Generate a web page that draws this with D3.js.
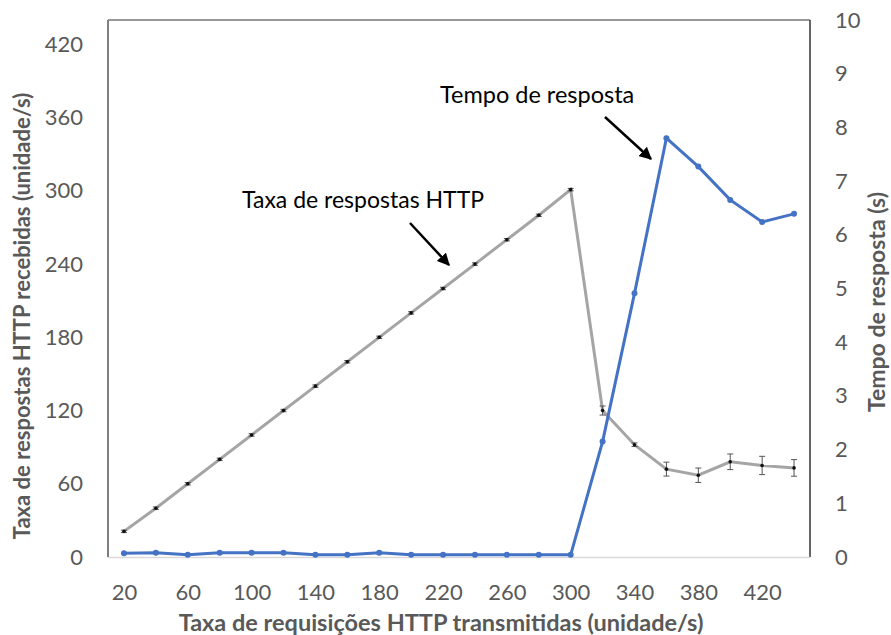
<!DOCTYPE html>
<html>
<head>
<meta charset="utf-8">
<script src="https://cdn.jsdelivr.net/npm/d3@7"></script>
<style>
  body { margin: 0; background: #fff; }
  svg text { font-family: Lato, "Open Sans", sans-serif; }
</style>
</head>
<body>
<svg id="chart" width="891" height="635"></svg>
<script>
// categories on the x axis (requests sent, unit/s)
const categories = [20,40,60,80,100,120,140,160,180,200,220,240,260,280,300,320,340,360,380,400,420,440];
const xLabels = [20,60,100,140,180,220,260,300,340,380,420];
// HTTP responses received (left axis)
const respRate = [21,40,60,80,100,120,140,160,180,200,220,240,260,280,301,120,92,72,67,78,75,73];
const respErr  = [1,1,1,1,1,1,1,1,1,1,1,1,1,1,1,3.7,1.5,5.7,5.9,6.4,7.5,6.8];
// response time in seconds (right axis)
const respTime = [0.07,0.08,0.04,0.08,0.08,0.08,0.04,0.04,0.08,0.04,0.04,0.04,0.04,0.04,0.04,2.15,4.91,7.8,7.27,6.65,6.24,6.39];
const leftTicks = [0,60,120,180,240,300,360,420];
const rightTicks = [0,1,2,3,4,5,6,7,8,9,10];

const opt = {left: 108, right: 810, top: 20, bottom: 557};
const svg = d3.select('#chart');

const x = d3.scalePoint().domain(categories).range([opt.left, opt.right]).padding(0.5);
const yL = d3.scaleLinear().domain([0, 440]).range([opt.bottom, opt.top]);
const yR = d3.scaleLinear().domain([0, 10]).range([opt.bottom, opt.top]);

const grey = '#595959';

// frame
svg.append('line').attr('x1', opt.left).attr('x2', opt.right).attr('y1', opt.top).attr('y2', opt.top)
    .attr('stroke', '#333').attr('stroke-width', 1.2);
svg.append('line').attr('x1', opt.right).attr('x2', opt.right).attr('y1', opt.top).attr('y2', opt.bottom)
    .attr('stroke', '#333').attr('stroke-width', 1.5);
svg.append('line').attr('x1', opt.left).attr('x2', opt.right).attr('y1', opt.bottom + 0.5).attr('y2', opt.bottom + 0.5)
    .attr('stroke', '#d9d9d9').attr('stroke-width', 1.5);
svg.append('line').attr('x1', opt.left).attr('x2', opt.left).attr('y1', opt.top).attr('y2', opt.bottom)
    .attr('stroke', '#7f7f7f').attr('stroke-width', 2);

// axes (labels only, Excel style)
const axL = svg.append('g').attr('transform', `translate(${opt.left - 25},0)`)
    .call(d3.axisLeft(yL).tickValues(leftTicks).tickSize(0).tickPadding(0));
const axR = svg.append('g').attr('transform', `translate(${opt.right + 25},0)`)
    .call(d3.axisRight(yR).tickValues(rightTicks).tickSize(0).tickPadding(0));
const axB = svg.append('g').attr('transform', `translate(0,${opt.bottom + 27})`)
    .call(d3.axisBottom(x).tickValues(xLabels).tickSize(0).tickPadding(0));
[axL, axR, axB].forEach(a => {
    a.select('.domain').remove();
    a.selectAll('text').attr('fill', grey).style('font-size', '22px');
});
axB.selectAll('text').attr('dy', '0.71em');

// axis titles
svg.append('text').attr('transform', 'translate(30,316) rotate(-90)')
    .attr('text-anchor', 'middle').attr('fill', grey).style('font-size', '22px').style('font-weight', 'bold')
    .text('Taxa de respostas HTTP recebidas (unidade/s)');
svg.append('text').attr('transform', 'translate(885,302) rotate(-90)')
    .attr('text-anchor', 'middle').attr('fill', grey).style('font-size', '23px').style('font-weight', 'bold')
    .text('Tempo de resposta (s)');
svg.append('text').attr('x', 441).attr('y', 631)
    .attr('text-anchor', 'middle').attr('fill', grey).style('font-size', '23.5px').style('font-weight', 'bold')
    .text('Taxa de requisições HTTP transmitidas (unidade/s)');

// grey series with error bars
const gData = categories.map((c, i) => ({c, v: respRate[i], e: respErr[i]}));
svg.append('path').datum(gData)
    .attr('fill', 'none').attr('stroke', '#a5a5a5').attr('stroke-width', 3)
    .attr('d', d3.line().x(d => x(d.c)).y(d => yL(d.v)));
const eb = svg.append('g').selectAll('g').data(gData).join('g').attr('stroke', '#555').attr('stroke-width', 1);
eb.append('line').attr('x1', d => x(d.c)).attr('x2', d => x(d.c))
    .attr('y1', d => yL(d.v - d.e)).attr('y2', d => yL(d.v + d.e));
eb.selectAll('line.cap').data(d => [[d, d.v - d.e], [d, d.v + d.e]]).join('line').attr('class', 'cap')
    .attr('x1', d => x(d[0].c) - 3).attr('x2', d => x(d[0].c) + 3)
    .attr('y1', d => yL(d[1])).attr('y2', d => yL(d[1]));
svg.append('g').selectAll('circle').data(gData).join('circle')
    .attr('cx', d => x(d.c)).attr('cy', d => yL(d.v)).attr('r', 1.8).attr('fill', '#111');

// blue series
const bData = categories.map((c, i) => ({c, v: respTime[i]}));
svg.append('path').datum(bData)
    .attr('fill', 'none').attr('stroke', '#4472c4').attr('stroke-width', 3)
    .attr('d', d3.line().x(d => x(d.c)).y(d => yR(d.v)));
svg.append('g').selectAll('circle').data(bData).join('circle')
    .attr('cx', d => x(d.c)).attr('cy', d => yR(d.v)).attr('r', 3).attr('fill', '#4472c4');

// annotations
svg.append('defs').append('marker').attr('id', 'arrowhead')
    .attr('viewBox', '0 0 10 10').attr('refX', 9).attr('refY', 5)
    .attr('markerWidth', 5).attr('markerHeight', 5).attr('orient', 'auto')
    .append('path').attr('d', 'M0,0 L10,5 L0,10 z').attr('fill', '#000');
const notes = [
    {text: 'Tempo de resposta', size: 23.5, tx: 440, ty: 103, x1: 605, y1: 117, x2: 651, y2: 159},
    {text: 'Taxa de respostas HTTP', size: 23, tx: 242, ty: 208, x1: 410, y1: 223, x2: 449, y2: 265}
];
notes.forEach(n => {
    svg.append('text').attr('x', n.tx).attr('y', n.ty).attr('fill', '#000')
        .style('font-size', n.size + 'px').text(n.text);
    svg.append('line').attr('x1', n.x1).attr('y1', n.y1).attr('x2', n.x2).attr('y2', n.y2)
        .attr('stroke', '#000').attr('stroke-width', 2.5).attr('marker-end', 'url(#arrowhead)');
});
</script>
</body>
</html>
